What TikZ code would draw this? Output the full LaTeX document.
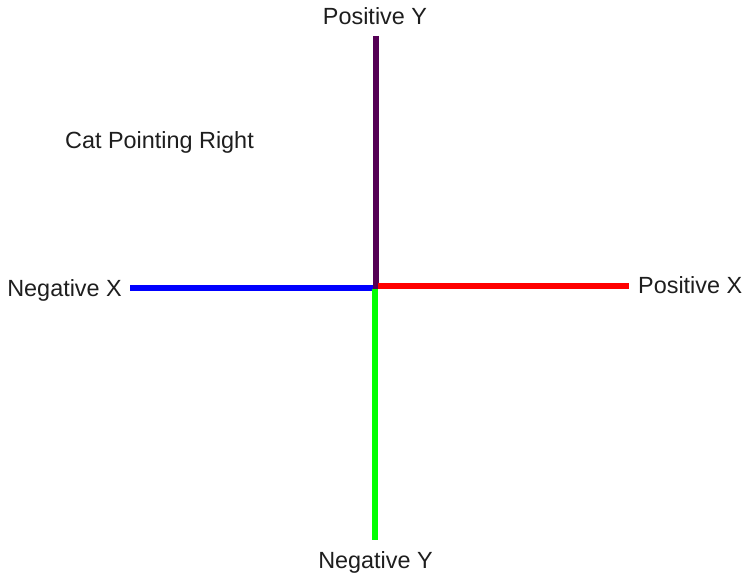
\documentclass[tikz,border=0pt]{standalone}
\usepackage{fontspec}
\setmainfont{Liberation Sans}
\definecolor{axpurple}{RGB}{85,0,85}
\definecolor{axblue}{RGB}{0,0,255}
\definecolor{axred}{RGB}{255,0,0}
\definecolor{axgreen}{RGB}{0,255,0}
\definecolor{txt}{RGB}{30,30,30}
\tikzset{
  lbl/.style={inner sep=0pt, font=\fontsize{23.4}{28}\selectfont, text=txt},
  axis/.style={line width=6pt}
}
\begin{document}
\begin{tikzpicture}[x=1pt,y=-1pt]
\useasboundingbox (0,0) rectangle (743,575);
\coordinate (pyTop) at (375.5,36);
\coordinate (pyBot) at (375.5,289);
\coordinate (nxL) at (130,288);
\coordinate (nxR) at (373,288);
\coordinate (pxL) at (378,286);
\coordinate (pxR) at (629,286);
\coordinate (nyTop) at (374.5,289);
\coordinate (nyBot) at (374.5,540);
\draw[axis, axpurple] (pyTop) -- (pyBot);
\draw[axis, axblue] (nxL) -- (nxR);
\draw[axis, axred] (pxL) -- (pxR);
\draw[axis, axgreen] (nyTop) -- (nyBot);
\node[lbl, anchor=base] (posY) at (375,25) {Positive Y};
\node[lbl, anchor=base] (negY) at (375.5,568) {Negative Y};
\node[lbl, anchor=base east] (negX) at (122,296) {Negative X};
\node[lbl, anchor=base west] (posX) at (638,293) {Positive X};
\node[lbl, anchor=base west] (cat) at (65,148) {Cat Pointing Right};
\end{tikzpicture}
\end{document}
